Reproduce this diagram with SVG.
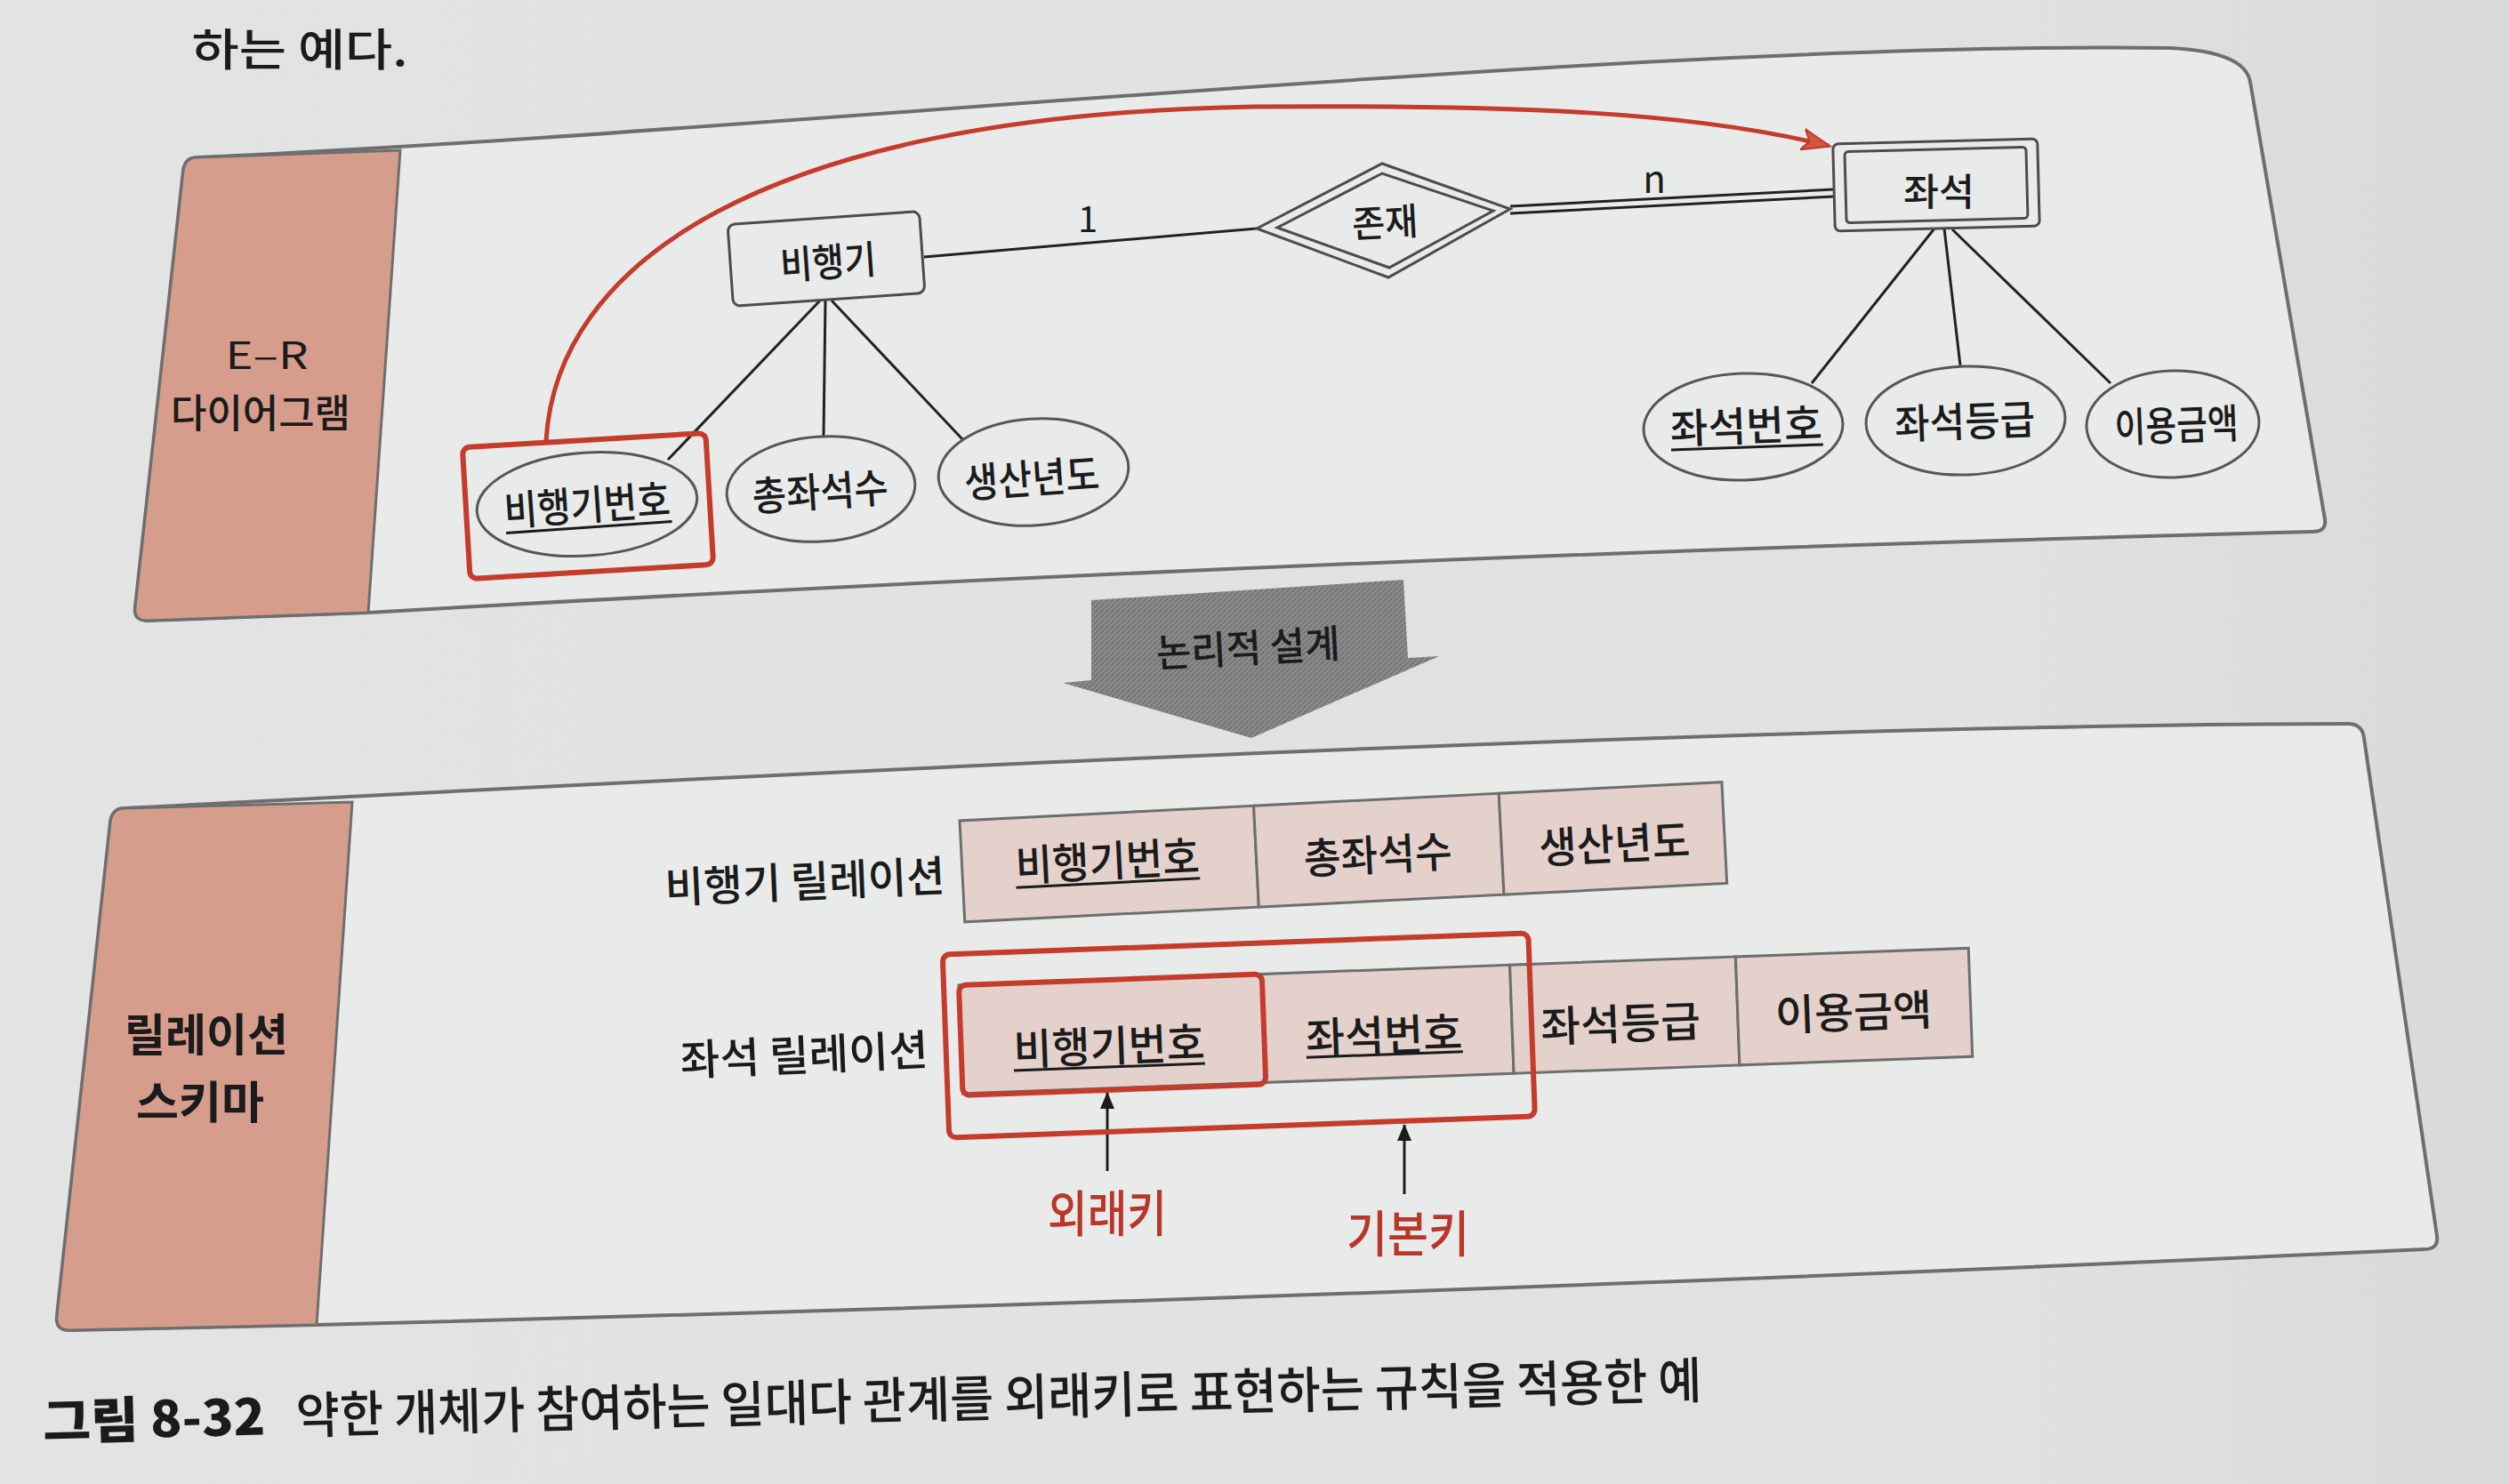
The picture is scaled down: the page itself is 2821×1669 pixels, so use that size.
<svg xmlns="http://www.w3.org/2000/svg" width="2821" height="1669" viewBox="0 0 2821 1669">
<defs>
<linearGradient id="bg" x1="0" y1="0" x2="1" y2="0">
<stop offset="0" stop-color="#e2e4e3"/>
<stop offset="0.8" stop-color="#e0e2e1"/>
<stop offset="1" stop-color="#d8dad9"/>
</linearGradient>
<pattern id="hatch" patternUnits="userSpaceOnUse" width="6" height="6">
<rect width="6" height="6" fill="#8a8a8a"/>
<path d="M0,6 L6,0" stroke="#6f6f6f" stroke-width="1.5"/>
</pattern>
<marker id="redHead" markerUnits="userSpaceOnUse" markerWidth="34" markerHeight="28" refX="30" refY="14" orient="auto">
<path d="M0,2 L32,14 L0,26 L8,14 Z" fill="#d4553c" stroke="#c0392b" stroke-width="2"/>
</marker>
<marker id="blackHead" markerUnits="userSpaceOnUse" markerWidth="20" markerHeight="18" refX="18" refY="9" orient="auto">
<path d="M0,1 L19,9 L0,17 Z" fill="#1c1c1c"/>
</marker>
<style>
.t{font-family:"Noto Sans CJK KR","Noto Sans",sans-serif;fill:#1b1b1b;font-weight:500;text-anchor:middle;dominant-baseline:central;}
.r{font-weight:400;}
.b{font-weight:700;}
.k{font-weight:900;}
.ln{stroke:#222;stroke-width:3;fill:none;}
.ent{fill:#e9ebea;stroke:#4c4c4c;stroke-width:3;}
.attr{fill:#e9ebea;stroke:#565656;stroke-width:3;}
.panel{fill:#e9ebea;stroke:#6e6e6e;stroke-width:4;}
.strip{fill:#d69d8d;stroke:#6e6e6e;stroke-width:3;}
.cell{fill:#e4d1cb;stroke:#6e6e6e;stroke-width:3;}
.red{fill:none;stroke:#c53b2c;stroke-width:6;}
.redt{fill:#b8372a;}
.ul{stroke:#1b1b1b;stroke-width:3;}
</style>
</defs>

<rect x="0" y="0" width="2821" height="1669" fill="url(#bg)"/>

<text class="t" x="337" y="52" font-size="50" textLength="243" lengthAdjust="spacingAndGlyphs" fill="#2b2b2b">하는 예다.</text>

<!-- Top panel: E-R diagram -->
<g id="panel-er">
<path class="panel" d="M 222,177 C 850,150 1850,45 2440,54 Q 2524,58 2530,92 L 2614,584 Q 2616,598 2600,598 Q 1500,626 414,689 L 166,698 Q 150,698 152,683 L 206,192 Q 208,177 222,177 Z"/>
<path class="strip" d="M 222,177 L 450,169 L 414,689 L 166,698 Q 150,698 152,683 L 206,192 Q 208,177 222,177 Z"/>
<text class="t r" x="300" y="396" font-size="42" textLength="93" lengthAdjust="spacingAndGlyphs">E–R</text>
<text class="t" x="293" y="462" font-size="44" textLength="202" lengthAdjust="spacingAndGlyphs">다이어그램</text>
</g>

<!-- Bottom panel: relation schema -->
<g id="panel-schema">
<path class="panel" d="M 140,909 C 700,880 1900,815 2640,814 Q 2656,814 2658,830 L 2740,1390 Q 2742,1405 2726,1405 Q 1600,1458 356,1490 L 78,1496 Q 62,1496 64,1480 L 124,925 Q 126,909 140,909 Z"/>
<path class="strip" d="M 140,909 L 396,902 L 356,1490 L 78,1496 Q 62,1496 64,1480 L 124,925 Q 126,909 140,909 Z"/>
<text class="t b" x="232" y="1160" font-size="50" textLength="184" lengthAdjust="spacingAndGlyphs">릴레이션</text>
<text class="t b" x="225" y="1236" font-size="50" textLength="144" lengthAdjust="spacingAndGlyphs">스키마</text>
</g>

<!-- Block arrow -->
<g id="arrow-logical">
<polygon points="1227,675 1578,652 1583,740 1618,738 1407,830 1195,768 1227,765" fill="url(#hatch)"/>
<text class="t" x="1403" y="726" font-size="44" textLength="207" lengthAdjust="spacingAndGlyphs" transform="rotate(-3 1403 726)">논리적 설계</text>
</g>

<!-- Connectors -->
<g id="connectors">
<line class="ln" x1="1039" y1="289" x2="1413" y2="257"/>
<line class="ln" x1="1698" y1="232" x2="2062" y2="213"/>
<line class="ln" x1="1698" y1="240" x2="2062" y2="221"/>
<line class="ln" x1="922" y1="338" x2="751" y2="517"/>
<line class="ln" x1="928" y1="338" x2="926" y2="490"/>
<line class="ln" x1="935" y1="338" x2="1084" y2="496"/>
<line class="ln" x1="2175" y1="257" x2="2037" y2="431"/>
<line class="ln" x1="2186" y1="257" x2="2204" y2="411"/>
<line class="ln" x1="2195" y1="258" x2="2373" y2="431"/>
<path d="M 614,496 C 625,300 850,130 1410,120 C 1700,118 1900,125 2056,164" fill="none" stroke="#c53b2c" stroke-width="5" marker-end="url(#redHead)"/>
<line x1="1245" y1="1317" x2="1245" y2="1229" stroke="#1c1c1c" stroke-width="3" marker-end="url(#blackHead)"/>
<line x1="1579" y1="1343" x2="1579" y2="1265" stroke="#1c1c1c" stroke-width="3" marker-end="url(#blackHead)"/>
<text class="t r" x="1223" y="244" font-size="40">1</text>
<text class="t r" x="1860" y="198" font-size="42">n</text>
</g>

<g id="node-bihaenggi">
<rect class="ent" x="821" y="245" width="216" height="92" rx="8" transform="rotate(-4 929 291)"/>
<text class="t" x="931" y="292" font-size="44" textLength="108" lengthAdjust="spacingAndGlyphs" transform="rotate(-4 931 292)">비행기</text>
</g>

<g id="node-jonjae">
<polygon class="ent" points="1413,257 1554,184 1698,235 1561,312"/>
<polygon fill="none" stroke="#4c4c4c" stroke-width="3" points="1436,256 1554,195 1679,237 1562,301"/>
<text class="t" x="1557" y="247" font-size="42" textLength="74" lengthAdjust="spacingAndGlyphs" transform="rotate(-3 1557 247)">존재</text>
</g>

<g id="node-jwaseok">
<g transform="rotate(-1.5 2177 208)">
<rect class="ent" x="2062" y="159" width="230" height="98" rx="6"/>
<rect fill="none" stroke="#4c4c4c" stroke-width="3" x="2075" y="168" width="204" height="80" rx="4"/>
</g>
<text class="t" x="2180" y="212" font-size="42" textLength="80" lengthAdjust="spacingAndGlyphs">좌석</text>
</g>

<g id="attr-bihaenggibeonho">
<ellipse class="attr" cx="660" cy="567" rx="124" ry="58" transform="rotate(-4 660 567)"/>
<g transform="rotate(-4 660 567)">
<text class="t" x="660" y="565" font-size="46" textLength="187" lengthAdjust="spacingAndGlyphs">비행기번호</text>
<line class="ul" x1="567" y1="593" x2="754" y2="593"/>
</g>
<rect class="red" x="524" y="495" width="274" height="148" rx="8" transform="rotate(-3.4 661 569)"/>
</g>

<g id="attr-chongjwaseoksu">
<ellipse class="attr" cx="923" cy="550" rx="106" ry="59" transform="rotate(-4 923 550)"/>
<text class="t" x="922" y="550" font-size="46" textLength="153" lengthAdjust="spacingAndGlyphs" transform="rotate(-4 922 550)">총좌석수</text>
</g>

<g id="attr-saengsannyeondo">
<ellipse class="attr" cx="1162" cy="531" rx="107" ry="60" transform="rotate(-4 1162 531)"/>
<text class="t" x="1160" y="535" font-size="46" textLength="152" lengthAdjust="spacingAndGlyphs" transform="rotate(-4 1160 535)">생산년도</text>
</g>

<g id="attr-jwaseokbeonho">
<ellipse class="attr" cx="1960" cy="480" rx="112" ry="60" transform="rotate(-2 1960 480)"/>
<g transform="rotate(-2 1963 477)">
<text class="t" x="1963" y="476" font-size="46" textLength="171" lengthAdjust="spacingAndGlyphs">좌석번호</text>
<line class="ul" x1="1878" y1="503" x2="2049" y2="503"/>
</g>
</g>

<g id="attr-jwaseokdeunggeup">
<ellipse class="attr" cx="2210" cy="473" rx="112" ry="61" transform="rotate(-2 2210 473)"/>
<text class="t" x="2209" y="471" font-size="46" textLength="158" lengthAdjust="spacingAndGlyphs" transform="rotate(-2 2209 471)">좌석등급</text>
</g>

<g id="attr-iyonggeumaek">
<ellipse class="attr" cx="2443" cy="477" rx="97" ry="60" transform="rotate(-2 2443 477)"/>
<text class="t" x="2447" y="475" font-size="46" textLength="139" lengthAdjust="spacingAndGlyphs" transform="rotate(-2 2447 475)">이용금액</text>
</g>

<g id="relation-bihaenggi">
<text class="t" x="905" y="988" font-size="48" textLength="315" lengthAdjust="spacingAndGlyphs" transform="rotate(-2.5 905 988)">비행기 릴레이션</text>
<g transform="rotate(-2.9 1079 923)">
<rect class="cell" x="1079" y="923" width="331" height="114"/>
<rect class="cell" x="1410" y="923" width="276" height="114"/>
<rect class="cell" x="1686" y="923" width="251" height="114"/>
</g>
<g transform="rotate(-2.9 1245 965)">
<text class="t" x="1245" y="965" font-size="48" textLength="207" lengthAdjust="spacingAndGlyphs">비행기번호</text>
<line class="ul" x1="1141" y1="993" x2="1348" y2="993"/>
</g>
<text class="t" x="1549" y="958" font-size="48" textLength="167" lengthAdjust="spacingAndGlyphs" transform="rotate(-2.9 1549 958)">총좌석수</text>
<text class="t" x="1815" y="946" font-size="48" textLength="170" lengthAdjust="spacingAndGlyphs" transform="rotate(-2.9 1815 946)">생산년도</text>
</g>

<g id="relation-jwaseok">
<text class="t" x="904" y="1183" font-size="48" textLength="279" lengthAdjust="spacingAndGlyphs" transform="rotate(-2.5 904 1183)">좌석 릴레이션</text>
<g transform="rotate(-2.1 1078 1108)">
<rect class="cell" x="1078" y="1108" width="341" height="122"/>
<rect class="cell" x="1419" y="1108" width="279" height="122"/>
<rect class="cell" x="1698" y="1108" width="254" height="122"/>
<rect class="cell" x="1952" y="1108" width="262" height="122"/>
<rect class="red" x="1078" y="1108" width="341" height="124" rx="8"/>
<rect class="red" x="1061" y="1073" width="659" height="206" rx="8"/>
</g>
<g transform="rotate(-2.1 1247 1175)">
<text class="t" x="1247" y="1173" font-size="48" textLength="215" lengthAdjust="spacingAndGlyphs">비행기번호</text>
<line class="ul" x1="1139" y1="1200" x2="1354" y2="1200"/>
</g>
<g transform="rotate(-2.1 1556 1163)">
<text class="t" x="1556" y="1161" font-size="48" textLength="176" lengthAdjust="spacingAndGlyphs">좌석번호</text>
<line class="ul" x1="1468" y1="1186" x2="1644" y2="1186"/>
</g>
<text class="t" x="1822" y="1148" font-size="48" textLength="180" lengthAdjust="spacingAndGlyphs" transform="rotate(-2.1 1822 1148)">좌석등급</text>
<text class="t" x="2084" y="1135" font-size="48" textLength="176" lengthAdjust="spacingAndGlyphs" transform="rotate(-2.1 2084 1135)">이용금액</text>
</g>

<g id="label-fk">
<text class="t redt" x="1245" y="1360" font-size="56" textLength="134" lengthAdjust="spacingAndGlyphs">외래키</text>
</g>
<g id="label-pk">
<text class="t redt" x="1583" y="1383" font-size="56" textLength="138" lengthAdjust="spacingAndGlyphs">기본키</text>
</g>

<g id="caption">
<text class="t k" x="173" y="1592" font-size="56" fill="#383838" textLength="250" lengthAdjust="spacingAndGlyphs" transform="rotate(-1.45 173 1592)">그림 8-32</text>
<text class="t" x="1123" y="1568" font-size="56" fill="#262626" textLength="1581" lengthAdjust="spacingAndGlyphs" transform="rotate(-1.45 1123 1568)">약한 개체가 참여하는 일대다 관계를 외래키로 표현하는 규칙을 적용한 예</text>
</g>
</svg>
